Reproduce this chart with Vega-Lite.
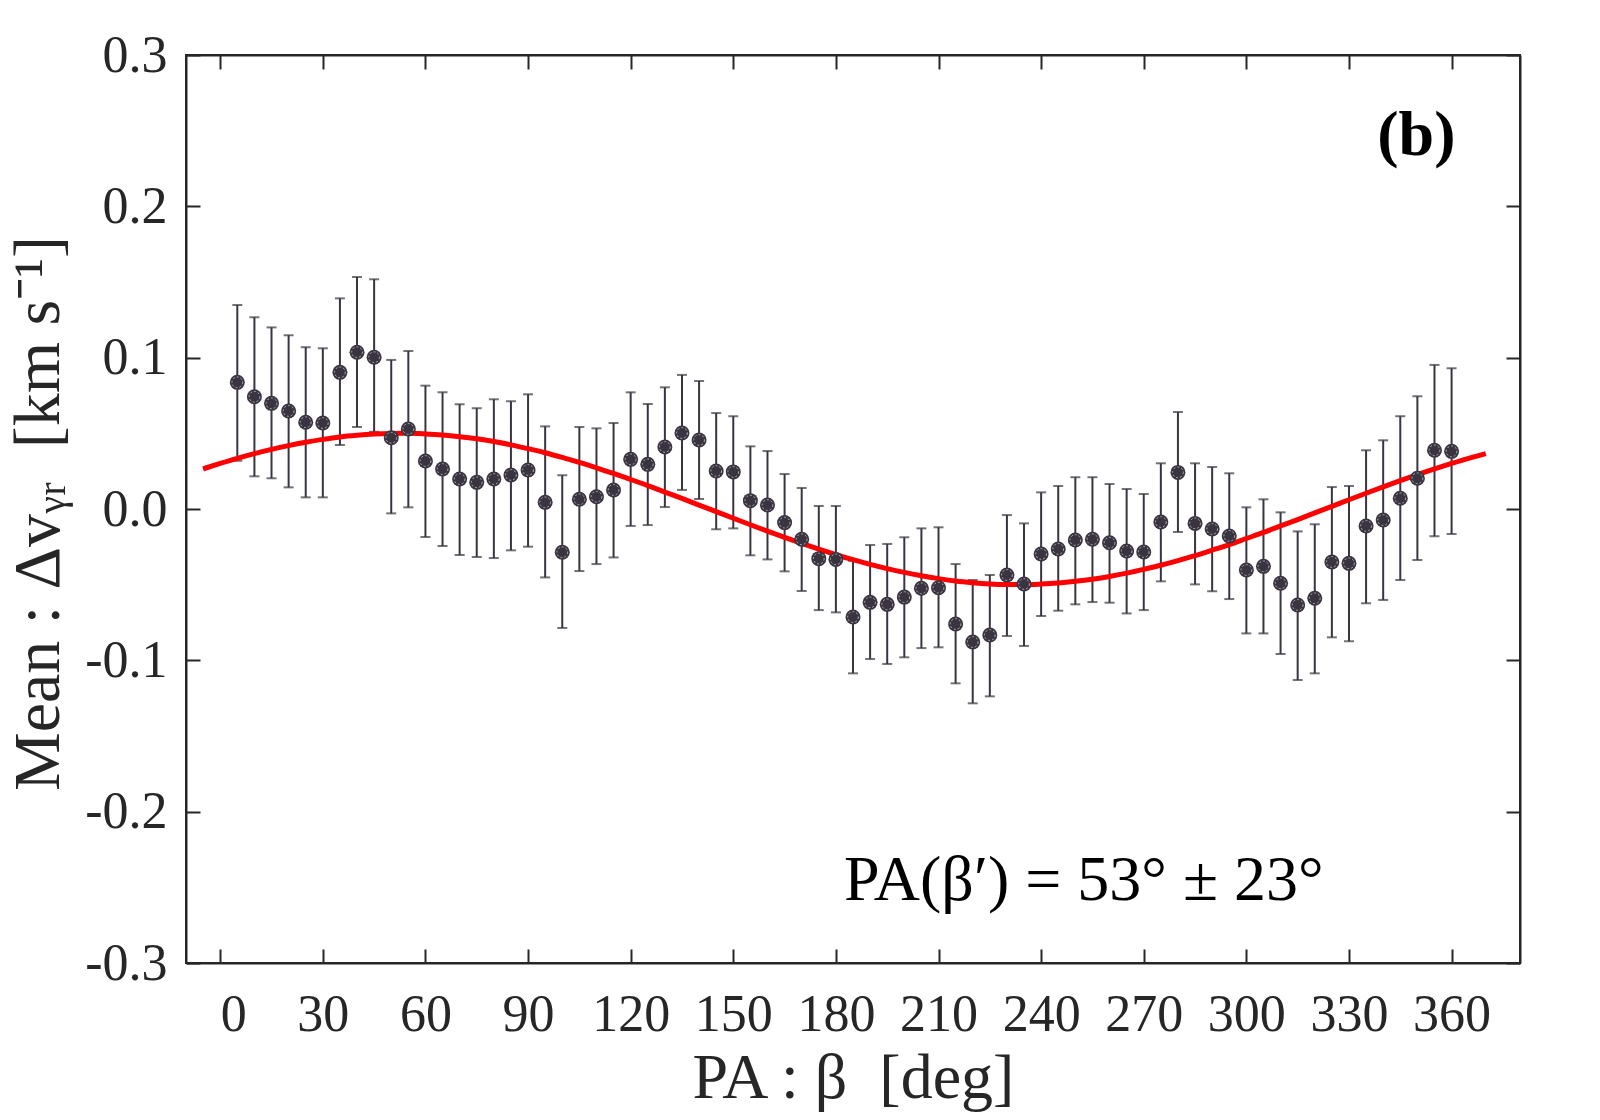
{
  "$schema": "https://vega.github.io/schema/vega-lite/v6.json",
  "width": 1334,
  "height": 908,
  "autosize": "none",
  "padding": {"left": 186, "top": 55, "right": 80, "bottom": 157},
  "background": "white",
  "config": {
    "font": "Liberation Serif",
    "view": {"stroke": "#262626", "strokeWidth": 2},
    "axis": {
      "grid": false,
      "domainColor": "#262626",
      "domainWidth": 2,
      "tickColor": "#262626",
      "tickWidth": 2,
      "tickSize": -14,
      "labelColor": "#262626",
      "labelFont": "Liberation Serif",
      "labelFontSize": 52,
      "titleColor": "#262626",
      "titleFont": "Liberation Serif",
      "titleFontSize": 64,
      "titleFontWeight": "normal",
      "labelFlush": false,
      "labelOverlap": false
    }
  },
  "datasets": {
    "pts": [
      {"b": 5, "v": 0.0837, "lo": 0.0319, "hi": 0.1348},
      {"b": 10, "v": 0.0742, "lo": 0.0216, "hi": 0.1267},
      {"b": 15, "v": 0.0698, "lo": 0.0203, "hi": 0.1200},
      {"b": 20, "v": 0.0648, "lo": 0.0143, "hi": 0.1148},
      {"b": 25, "v": 0.0573, "lo": 0.0077, "hi": 0.1069},
      {"b": 30, "v": 0.0568, "lo": 0.0077, "hi": 0.1062},
      {"b": 35, "v": 0.0903, "lo": 0.0423, "hi": 0.1392},
      {"b": 40, "v": 0.1036, "lo": 0.0542, "hi": 0.1533},
      {"b": 45, "v": 0.1003, "lo": 0.0510, "hi": 0.1518},
      {"b": 50, "v": 0.0471, "lo": -0.0029, "hi": 0.0985},
      {"b": 55, "v": 0.0529, "lo": 0.0011, "hi": 0.1044},
      {"b": 60, "v": 0.0317, "lo": -0.0185, "hi": 0.0815},
      {"b": 65, "v": 0.0264, "lo": -0.0245, "hi": 0.0771},
      {"b": 70, "v": 0.0198, "lo": -0.0304, "hi": 0.0692},
      {"b": 75, "v": 0.0176, "lo": -0.0317, "hi": 0.0666},
      {"b": 80, "v": 0.0198, "lo": -0.0324, "hi": 0.0725},
      {"b": 85, "v": 0.0225, "lo": -0.0273, "hi": 0.0712},
      {"b": 90, "v": 0.0258, "lo": -0.0249, "hi": 0.0758},
      {"b": 95, "v": 0.0044, "lo": -0.0452, "hi": 0.0546},
      {"b": 100, "v": -0.0286, "lo": -0.0786, "hi": 0.0223},
      {"b": 105, "v": 0.0064, "lo": -0.0410, "hi": 0.0542},
      {"b": 110, "v": 0.0081, "lo": -0.0364, "hi": 0.0533},
      {"b": 115, "v": 0.0126, "lo": -0.0320, "hi": 0.0568},
      {"b": 120, "v": 0.0328, "lo": -0.0112, "hi": 0.0771},
      {"b": 125, "v": 0.0295, "lo": -0.0106, "hi": 0.0694},
      {"b": 130, "v": 0.0410, "lo": 0.0013, "hi": 0.0804},
      {"b": 135, "v": 0.0502, "lo": 0.0126, "hi": 0.0886},
      {"b": 140, "v": 0.0456, "lo": 0.0066, "hi": 0.0846},
      {"b": 145, "v": 0.0251, "lo": -0.0134, "hi": 0.0634},
      {"b": 150, "v": 0.0245, "lo": -0.0128, "hi": 0.0613},
      {"b": 155, "v": 0.0055, "lo": -0.0306, "hi": 0.0414},
      {"b": 160, "v": 0.0026, "lo": -0.0333, "hi": 0.0383},
      {"b": 165, "v": -0.0090, "lo": -0.0412, "hi": 0.0231},
      {"b": 170, "v": -0.0200, "lo": -0.0542, "hi": 0.0139},
      {"b": 175, "v": -0.0328, "lo": -0.0668, "hi": 0.0020},
      {"b": 180, "v": -0.0333, "lo": -0.0683, "hi": 0.0020},
      {"b": 185, "v": -0.0714, "lo": -0.1086, "hi": -0.0342},
      {"b": 190, "v": -0.0617, "lo": -0.0991, "hi": -0.0238},
      {"b": 195, "v": -0.0630, "lo": -0.1024, "hi": -0.0231},
      {"b": 200, "v": -0.0582, "lo": -0.0980, "hi": -0.0187},
      {"b": 205, "v": -0.0524, "lo": -0.0919, "hi": -0.0128},
      {"b": 210, "v": -0.0520, "lo": -0.0914, "hi": -0.0121},
      {"b": 215, "v": -0.0760, "lo": -0.1152, "hi": -0.0364},
      {"b": 220, "v": -0.0879, "lo": -0.1284, "hi": -0.0469},
      {"b": 225, "v": -0.0833, "lo": -0.1238, "hi": -0.0436},
      {"b": 230, "v": -0.0436, "lo": -0.0839, "hi": -0.0040},
      {"b": 235, "v": -0.0496, "lo": -0.0905, "hi": -0.0095},
      {"b": 240, "v": -0.0297, "lo": -0.0707, "hi": 0.0110},
      {"b": 245, "v": -0.0264, "lo": -0.0672, "hi": 0.0152},
      {"b": 250, "v": -0.0205, "lo": -0.0630, "hi": 0.0210},
      {"b": 255, "v": -0.0200, "lo": -0.0615, "hi": 0.0210},
      {"b": 260, "v": -0.0223, "lo": -0.0619, "hi": 0.0165},
      {"b": 265, "v": -0.0278, "lo": -0.0690, "hi": 0.0132},
      {"b": 270, "v": -0.0284, "lo": -0.0668, "hi": 0.0099},
      {"b": 275, "v": -0.0086, "lo": -0.0478, "hi": 0.0302},
      {"b": 280, "v": 0.0242, "lo": -0.0152, "hi": 0.0641},
      {"b": 285, "v": -0.0095, "lo": -0.0498, "hi": 0.0302},
      {"b": 290, "v": -0.0132, "lo": -0.0544, "hi": 0.0278},
      {"b": 295, "v": -0.0178, "lo": -0.0595, "hi": 0.0236},
      {"b": 300, "v": -0.0403, "lo": -0.0822, "hi": 0.0011},
      {"b": 305, "v": -0.0379, "lo": -0.0822, "hi": 0.0064},
      {"b": 310, "v": -0.0491, "lo": -0.0958, "hi": -0.0022},
      {"b": 315, "v": -0.0634, "lo": -0.1130, "hi": -0.0148},
      {"b": 320, "v": -0.0590, "lo": -0.1086, "hi": -0.0101},
      {"b": 325, "v": -0.0350, "lo": -0.0848, "hi": 0.0145},
      {"b": 330, "v": -0.0359, "lo": -0.0874, "hi": 0.0152},
      {"b": 335, "v": -0.0112, "lo": -0.0623, "hi": 0.0388},
      {"b": 340, "v": -0.0073, "lo": -0.0601, "hi": 0.0454},
      {"b": 345, "v": 0.0071, "lo": -0.0469, "hi": 0.0613},
      {"b": 350, "v": 0.0203, "lo": -0.0337, "hi": 0.0745},
      {"b": 355, "v": 0.0388, "lo": -0.0180, "hi": 0.0952},
      {"b": 360, "v": 0.0381, "lo": -0.0165, "hi": 0.0930}
    ],
    "fit": [
      {"b": -5, "f": 0.0265}, {"b": 0, "f": 0.0301}, {"b": 5, "f": 0.0335}, {"b": 10, "f": 0.0366},
      {"b": 15, "f": 0.0394}, {"b": 20, "f": 0.0419}, {"b": 25, "f": 0.0441}, {"b": 30, "f": 0.0460},
      {"b": 35, "f": 0.0476}, {"b": 40, "f": 0.0487}, {"b": 45, "f": 0.0495}, {"b": 50, "f": 0.0499},
      {"b": 55, "f": 0.0500}, {"b": 60, "f": 0.0496}, {"b": 65, "f": 0.0489}, {"b": 70, "f": 0.0478},
      {"b": 75, "f": 0.0464}, {"b": 80, "f": 0.0446}, {"b": 85, "f": 0.0424}, {"b": 90, "f": 0.0399},
      {"b": 95, "f": 0.0372}, {"b": 100, "f": 0.0341}, {"b": 105, "f": 0.0308}, {"b": 110, "f": 0.0272},
      {"b": 115, "f": 0.0235}, {"b": 120, "f": 0.0195}, {"b": 125, "f": 0.0155}, {"b": 130, "f": 0.0112},
      {"b": 135, "f": 0.0070}, {"b": 140, "f": 0.0026}, {"b": 145, "f": -0.0017}, {"b": 150, "f": -0.0061},
      {"b": 155, "f": -0.0104}, {"b": 160, "f": -0.0146}, {"b": 165, "f": -0.0187}, {"b": 170, "f": -0.0227},
      {"b": 175, "f": -0.0265}, {"b": 180, "f": -0.0301}, {"b": 185, "f": -0.0335}, {"b": 190, "f": -0.0366},
      {"b": 195, "f": -0.0394}, {"b": 200, "f": -0.0419}, {"b": 205, "f": -0.0441}, {"b": 210, "f": -0.0460},
      {"b": 215, "f": -0.0476}, {"b": 220, "f": -0.0487}, {"b": 225, "f": -0.0495}, {"b": 230, "f": -0.0499},
      {"b": 235, "f": -0.0500}, {"b": 240, "f": -0.0496}, {"b": 245, "f": -0.0489}, {"b": 250, "f": -0.0478},
      {"b": 255, "f": -0.0464}, {"b": 260, "f": -0.0446}, {"b": 265, "f": -0.0424}, {"b": 270, "f": -0.0399},
      {"b": 275, "f": -0.0372}, {"b": 280, "f": -0.0341}, {"b": 285, "f": -0.0308}, {"b": 290, "f": -0.0272},
      {"b": 295, "f": -0.0235}, {"b": 300, "f": -0.0195}, {"b": 305, "f": -0.0155}, {"b": 310, "f": -0.0112},
      {"b": 315, "f": -0.0070}, {"b": 320, "f": -0.0026}, {"b": 325, "f": 0.0017}, {"b": 330, "f": 0.0061},
      {"b": 335, "f": 0.0104}, {"b": 340, "f": 0.0146}, {"b": 345, "f": 0.0187}, {"b": 350, "f": 0.0227},
      {"b": 355, "f": 0.0265}, {"b": 360, "f": 0.0301}, {"b": 365, "f": 0.0335}, {"b": 370, "f": 0.0366}
    ],
    "panel": [{"b": 349.7, "v": 0.234, "t": "(b)"}],
    "note": [{"b": 252.5, "v": -0.2584, "t": "PA(β′) = 53° ± 23°"}]
  },
  "resolve": {"axis": {"x": "independent", "y": "independent"}},
  "layer": [
    {
      "data": {"name": "pts"},
      "mark": {"type": "rule", "color": "#3a3440", "strokeWidth": 2},
      "encoding": {
        "x": {
          "field": "b", "type": "quantitative",
          "scale": {"domain": [-10, 380], "nice": false, "zero": false},
          "axis": {
            "orient": "bottom",
            "values": [0, 30, 60, 90, 120, 150, 180, 210, 240, 270, 300, 330, 360],
            "labelPadding": 40,
            "labelBaseline": "top",
            "labelAlign": {"condition": {"test": "datum.value === 0", "value": "left"}, "value": "center"},
            "title": "PA : β\u00a0\u00a0[deg]",
            "titleX": 667,
            "titleY": 134,
            "titleAlign": "center",
            "titleBaseline": "alphabetic"
          }
        },
        "y": {
          "field": "lo", "type": "quantitative",
          "scale": {"domain": [-0.3, 0.3], "nice": false, "zero": false},
          "axis": {
            "orient": "left",
            "values": [-0.3, -0.2, -0.1, 0, 0.1, 0.2, 0.3],
            "labelExpr": "replace(format(datum.value, '.1f'), '−', '-')",
            "labelPadding": 33,
            "title": "Mean : Δvᵧᵣ\u00a0\u00a0[km s⁻¹]",
            "titleFontSize": 66,
            "titleAngle": -90,
            "titleX": -128,
            "titleY": 458,
            "titleAlign": "center",
            "titleBaseline": "alphabetic"
          }
        },
        "y2": {"field": "hi"}
      }
    },
    {
      "data": {"name": "pts"},
      "mark": {"type": "point", "opacity": 0},
      "encoding": {
        "x": {
          "field": "b", "type": "quantitative",
          "axis": {"orient": "top", "values": [0, 30, 60, 90, 120, 150, 180, 210, 240, 270, 300, 330, 360], "labels": false, "title": null}
        },
        "y": {
          "field": "v", "type": "quantitative",
          "axis": {"orient": "right", "values": [-0.3, -0.2, -0.1, 0, 0.1, 0.2, 0.3], "labels": false, "title": null}
        }
      }
    },
    {
      "data": {"name": "pts"},
      "mark": {"type": "tick", "orient": "horizontal", "color": "#3a3440", "size": 10, "thickness": 2},
      "encoding": {
        "x": {"field": "b", "type": "quantitative", "axis": null},
        "y": {"field": "hi", "type": "quantitative", "axis": null}
      }
    },
    {
      "data": {"name": "pts"},
      "mark": {"type": "tick", "orient": "horizontal", "color": "#3a3440", "size": 10, "thickness": 2},
      "encoding": {
        "x": {"field": "b", "type": "quantitative", "axis": null},
        "y": {"field": "lo", "type": "quantitative", "axis": null}
      }
    },
    {
      "data": {"name": "fit"},
      "mark": {"type": "line", "color": "#ff0000", "strokeWidth": 5, "interpolate": "monotone"},
      "encoding": {
        "x": {"field": "b", "type": "quantitative", "axis": null},
        "y": {"field": "f", "type": "quantitative", "axis": null}
      }
    },
    {
      "data": {"name": "pts"},
      "mark": {"type": "point", "shape": "circle", "filled": true, "color": "#3a3440", "opacity": 1, "size": 225},
      "encoding": {
        "x": {"field": "b", "type": "quantitative", "axis": null},
        "y": {"field": "v", "type": "quantitative", "axis": null}
      }
    },
    {
      "data": {"name": "pts"},
      "mark": {"type": "point", "shape": "circle", "filled": false, "stroke": "#b4b0b8", "strokeWidth": 1, "strokeDash": [2, 2], "opacity": 1, "size": 115},
      "encoding": {
        "x": {"field": "b", "type": "quantitative", "axis": null},
        "y": {"field": "v", "type": "quantitative", "axis": null}
      }
    },
    {
      "data": {"name": "panel"},
      "mark": {"type": "text", "font": "Liberation Serif", "fontSize": 64, "fontWeight": "bold", "color": "#000000", "align": "center", "baseline": "alphabetic"},
      "encoding": {
        "x": {"field": "b", "type": "quantitative", "axis": null},
        "y": {"field": "v", "type": "quantitative", "axis": null},
        "text": {"field": "t"}
      }
    },
    {
      "data": {"name": "note"},
      "mark": {"type": "text", "font": "Liberation Serif", "fontSize": 64, "color": "#000000", "align": "center", "baseline": "alphabetic"},
      "encoding": {
        "x": {"field": "b", "type": "quantitative", "axis": null},
        "y": {"field": "v", "type": "quantitative", "axis": null},
        "text": {"field": "t"}
      }
    }
  ]
}
